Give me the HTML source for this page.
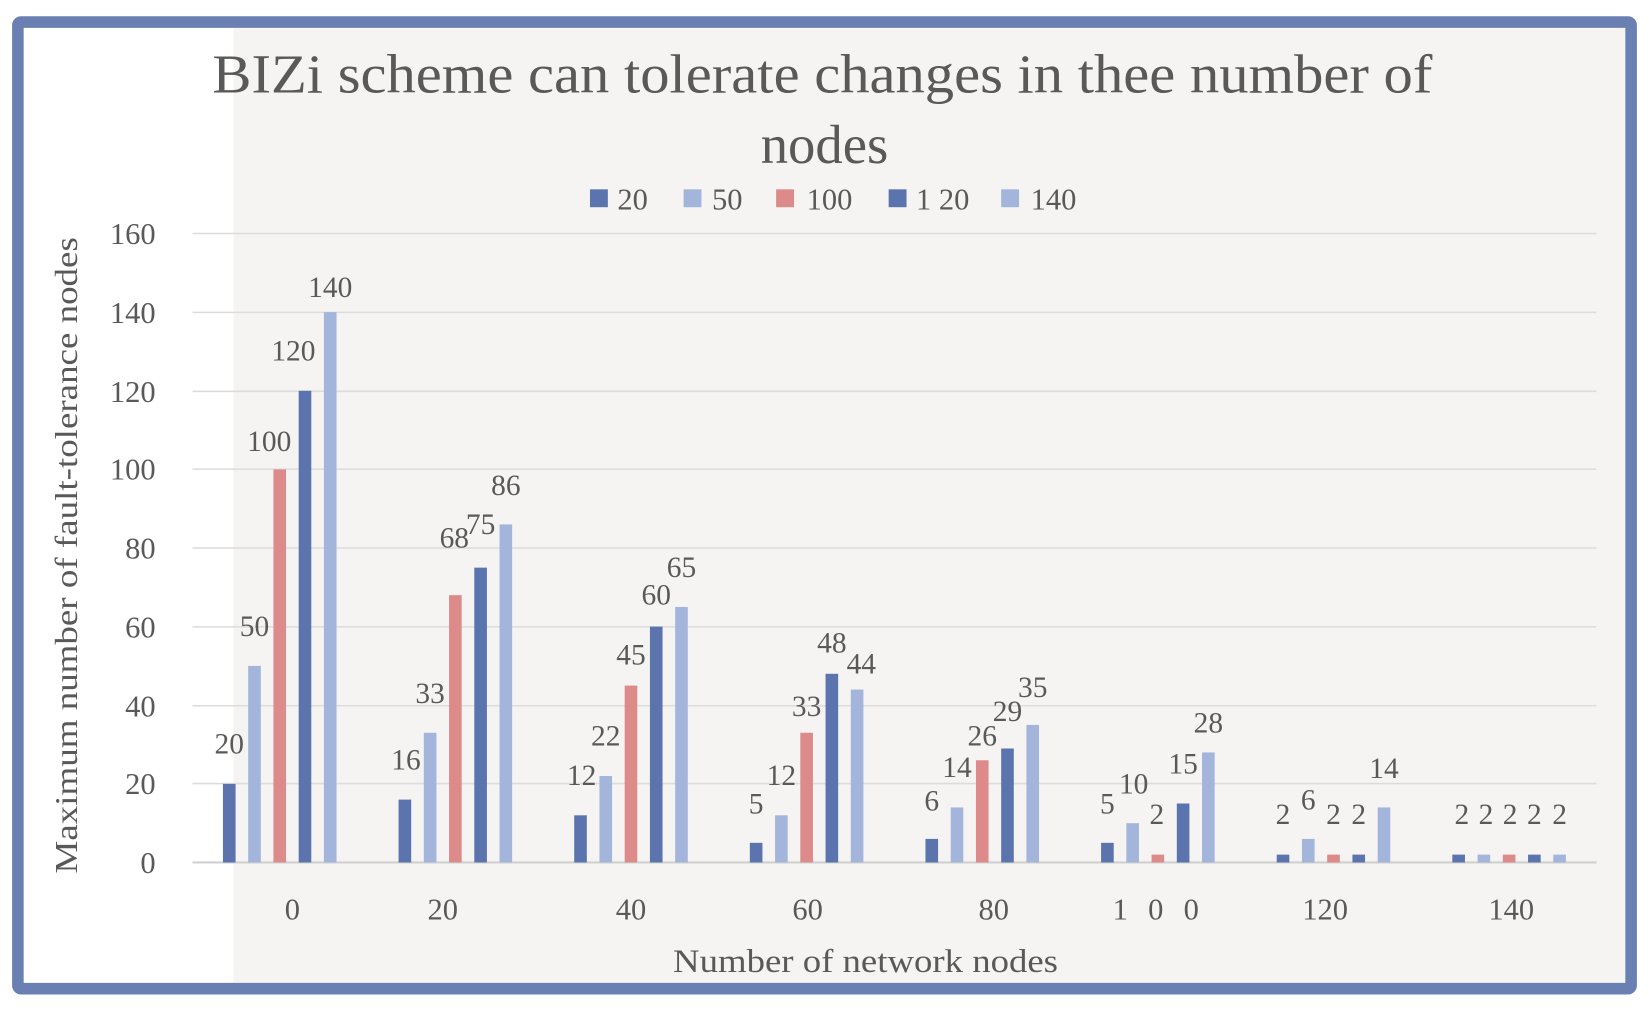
<!DOCTYPE html>
<html><head><meta charset="utf-8"><style>
html,body{margin:0;padding:0;background:#fff;}
svg{display:block;}
text{font-family:"Liberation Serif",serif;fill:#595959;}
</style></head><body>
<svg width="1649" height="1015" viewBox="0 0 1568 965" preserveAspectRatio="none" xmlns="http://www.w3.org/2000/svg">
<rect x="0" y="0" width="1568" height="965" fill="#fff"/>
<rect x="222" y="27" width="1324" height="910" fill="#f5f4f2"/>
<rect x="17" y="21" width="1534" height="919" fill="none" stroke="#6a80b3" stroke-width="11" rx="3"/>
<text x="202" y="88" font-size="52" textLength="1160" lengthAdjust="spacingAndGlyphs">BIZi scheme can tolerate changes in thee number of</text>
<text x="784" y="155" font-size="52" text-anchor="middle">nodes</text>
<g font-size="29">
<rect x="561" y="180" width="17" height="17" fill="#5b74ad"/><text x="587" y="199">20</text>
<rect x="650" y="180" width="17" height="17" fill="#a4b5dc"/><text x="677" y="199">50</text>
<rect x="738" y="180" width="17" height="17" fill="#dc8a8a"/><text x="767" y="199">100</text>
<rect x="845" y="180" width="17" height="17" fill="#5b74ad"/><text x="871" y="199">1 20</text>
<rect x="952" y="180" width="17" height="17" fill="#a4b5dc"/><text x="980" y="199">140</text>
</g>
<g stroke="#dcdcdc" stroke-width="1.5">
<line x1="183" y1="222" x2="1518" y2="222"/>
<line x1="183" y1="297" x2="1518" y2="297"/>
<line x1="183" y1="372" x2="1518" y2="372"/>
<line x1="183" y1="446" x2="1518" y2="446"/>
<line x1="183" y1="521" x2="1518" y2="521"/>
<line x1="183" y1="596" x2="1518" y2="596"/>
<line x1="183" y1="671" x2="1518" y2="671"/>
<line x1="183" y1="745" x2="1518" y2="745"/>
</g>
<line x1="183" y1="820" x2="1518" y2="820" stroke="#d0d0d0" stroke-width="2"/>
<g font-size="29" text-anchor="end">
<text x="148" y="232">160</text><text x="148" y="307">140</text><text x="148" y="382">120</text>
<text x="148" y="456">100</text><text x="148" y="531">80</text><text x="148" y="606">60</text>
<text x="148" y="681">40</text><text x="148" y="755">20</text><text x="148" y="830">0</text>
</g>
<text transform="translate(73,528) rotate(-90)" font-size="30" text-anchor="middle" textLength="605" lengthAdjust="spacingAndGlyphs">Maximum number of fault-tolerance nodes</text>
<g font-size="29" text-anchor="middle">
<text x="278" y="874">0</text><text x="421" y="874">20</text><text x="600" y="874">40</text>
<text x="768" y="874">60</text><text x="945" y="874">80</text><text x="1102" y="874" letter-spacing="6">1 0 0</text>
<text x="1260" y="874">120</text><text x="1437" y="874">140</text>
</g>
<text x="640" y="924" font-size="31" textLength="366" lengthAdjust="spacingAndGlyphs">Number of network nodes</text>
<g id="bars"></g>
<g id="labels" font-size="28" text-anchor="middle" dominant-baseline="central"></g>
<script>
var data=[[20,50,100,120,140],[16,33,68,75,86],[12,22,45,60,65],[5,12,33,48,44],[6,14,26,29,35],[5,10,2,15,28],[2,6,2,2,14],[2,2,2,2,2]];
var cols=["#5b74ad","#a4b5dc","#dc8a8a","#5b74ad","#a4b5dc"];
var lp=[[[218,708],[242,596],[256,420],[279,334],[314,274]],
[[386,723],[409,660],[432,512],[457,499],[481,462]],
[[553,738],[576,700],[600,623],[624,566],[648,540]],
[[719,765],[743,738],[767,672],[791,612],[819,632]],
[[886,762],[910,730],[934,700],[958,677],[982,654]],
[[1053,765],[1078,746],[1100,775],[1125,727],[1149,688]],
[[1220,775],[1244,761],[1268,775],[1292,775],[1316,731]],
[[1390,775],[1413,775],[1436,775],[1459,775],[1483,775]]];
var ns="http://www.w3.org/2000/svg",b=document.getElementById("bars"),l=document.getElementById("labels");
for(var g=0;g<8;g++)for(var s=0;s<5;s++){
var cx=218+g*167+s*24,v=data[g][s],h=v*3.7375;
var r=document.createElementNS(ns,"rect");
r.setAttribute("x",cx-6);r.setAttribute("y",820-h);r.setAttribute("width",12);r.setAttribute("height",h);r.setAttribute("fill",cols[s]);b.appendChild(r);
var t=document.createElementNS(ns,"text");t.setAttribute("x",lp[g][s][0]);t.setAttribute("y",lp[g][s][1]);t.textContent=v;l.appendChild(t);}
</script>
</svg>
</body></html>
